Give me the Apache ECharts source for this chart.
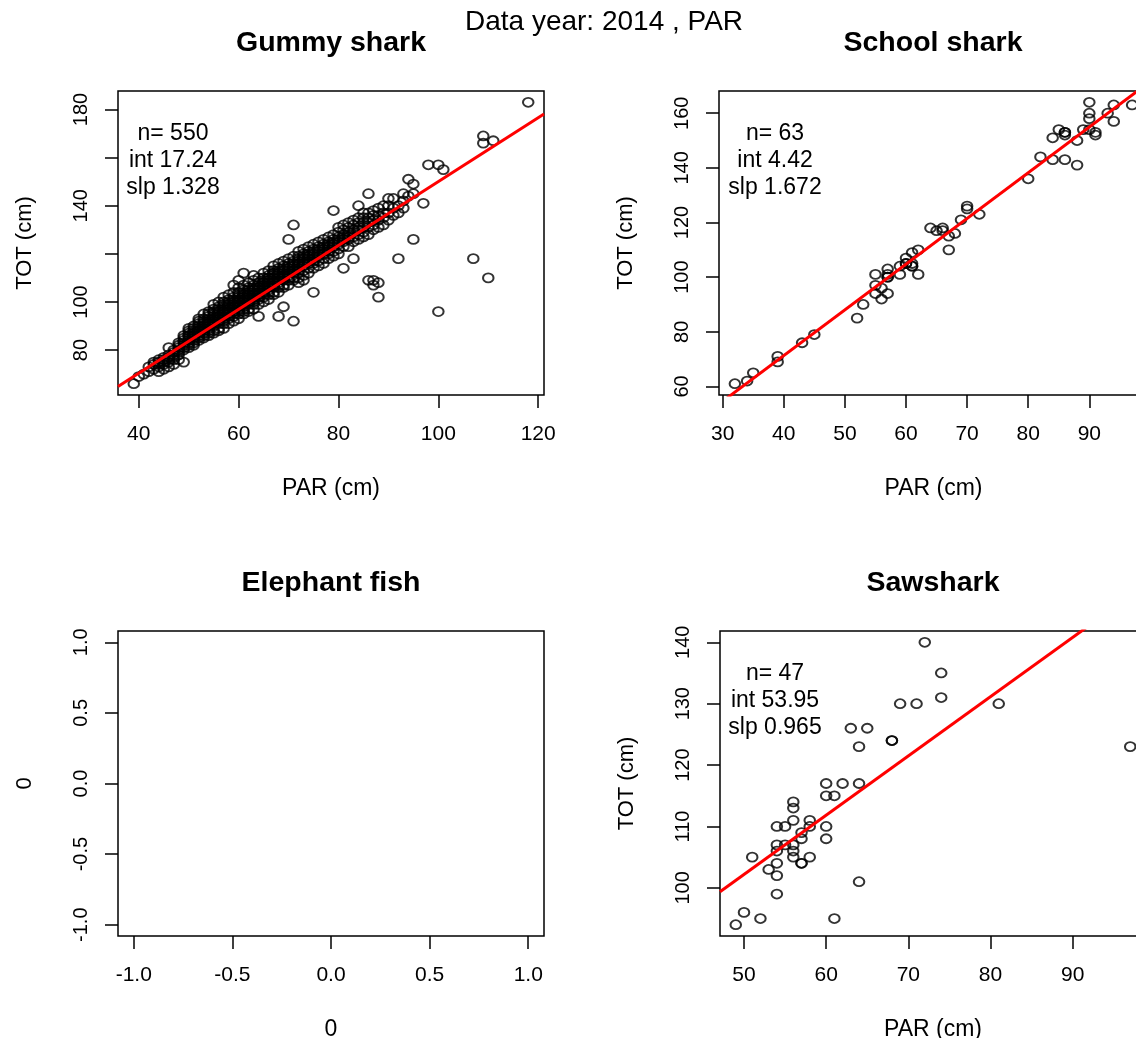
<!DOCTYPE html>
<html>
<head>
<meta charset="utf-8">
<script src="https://cdn.jsdelivr.net/npm/echarts@6/dist/echarts.min.js"></script>
<style>
  html, body { margin: 0; padding: 0; background: #fff; }
  #chart { width: 1136px; height: 1038px; }
</style>
</head>
<body>
<div id="chart"></div>
<script>
// ---- Length data, 2014: partial (PAR) vs total (TOT) length, cm ----

// Gummy shark: each row is [PAR, TOT, TOT, ...]
const gummyRows = [
  [39, 66], [40, 69], [41, 70], [42, 71, 73],
  [43, 72, 74, 75], [44, 71, 73, 74, 75, 76], [45, 72, 74, 75, 76, 77],
  [46, 73, 75, 76, 77, 78, 81], [47, 74, 76, 77, 78, 79, 80],
  [48, 76, 78, 79, 80, 81, 82, 83], [49, 75, 80, 81, 82, 83, 84, 85, 86],
  [50, 81, 82, 83, 84, 85, 86, 86, 87, 88, 89],
  [51, 82, 83, 84, 85, 86, 87, 87, 88, 89, 90],
  [52, 84, 85, 86, 87, 88, 88, 89, 90, 91, 92, 93],
  [53, 85, 86, 87, 88, 89, 89, 90, 91, 92, 93, 95],
  [54, 86, 87, 88, 89, 90, 91, 91, 92, 93, 94, 95, 96],
  [55, 87, 88, 90, 91, 92, 92, 93, 94, 95, 96, 97, 99],
  [56, 88, 89, 91, 92, 93, 94, 94, 95, 96, 97, 98, 100],
  [57, 89, 91, 92, 93, 94, 95, 96, 96, 97, 98, 99, 100, 102],
  [58, 91, 93, 94, 95, 96, 97, 97, 98, 99, 100, 101, 103],
  [59, 92, 94, 95, 96, 97, 98, 99, 99, 100, 101, 102, 104, 107],
  [60, 93, 95, 96, 97, 98, 99, 100, 100, 101, 102, 103, 104, 106, 109],
  [61, 95, 96, 97, 98, 99, 100, 101, 102, 102, 103, 104, 105, 107, 112],
  [62, 96, 97, 99, 100, 101, 102, 103, 103, 104, 105, 106, 108],
  [63, 97, 99, 100, 101, 102, 103, 104, 105, 105, 106, 107, 109, 111],
  [64, 94, 99, 101, 102, 103, 104, 105, 106, 106, 107, 108, 110],
  [65, 100, 102, 103, 104, 105, 106, 107, 108, 108, 109, 110, 112],
  [66, 101, 103, 104, 105, 106, 107, 108, 109, 110, 110, 111, 113],
  [67, 103, 104, 106, 107, 108, 109, 110, 111, 112, 112, 113, 115],
  [68, 94, 104, 106, 107, 108, 109, 110, 111, 112, 113, 114, 116],
  [69, 98, 106, 107, 109, 110, 111, 112, 113, 114, 115, 117],
  [70, 107, 109, 110, 111, 112, 113, 114, 115, 116, 118, 126],
  [71, 92, 109, 110, 112, 113, 114, 115, 116, 117, 119, 132],
  [72, 108, 110, 112, 113, 114, 115, 116, 117, 118, 119, 121],
  [73, 109, 111, 113, 115, 116, 117, 118, 119, 120, 122],
  [74, 112, 114, 116, 117, 118, 119, 120, 121, 123],
  [75, 104, 114, 116, 117, 118, 119, 120, 121, 122, 124],
  [76, 115, 117, 119, 120, 121, 122, 123, 125],
  [77, 116, 118, 120, 121, 122, 123, 124, 126],
  [78, 118, 120, 121, 122, 123, 124, 125, 127],
  [79, 119, 121, 123, 124, 125, 126, 128, 138],
  [80, 120, 122, 124, 125, 126, 127, 129, 131],
  [81, 114, 123, 125, 126, 127, 128, 130, 132],
  [82, 123, 126, 127, 128, 129, 131, 133],
  [83, 118, 125, 127, 129, 130, 132, 134],
  [84, 126, 128, 130, 131, 133, 135, 140],
  [85, 127, 129, 131, 133, 135, 137],
  [86, 109, 128, 131, 133, 135, 137, 145],
  [87, 107, 109, 130, 132, 134, 136, 138],
  [88, 102, 108, 131, 134, 136, 139],
  [89, 132, 135, 137, 140], [90, 134, 137, 140, 143], [91, 136, 139, 143],
  [92, 118, 137, 140], [93, 139, 142, 145], [94, 144, 151], [95, 126, 145, 149],
  [97, 141], [98, 157], [100, 96, 157], [101, 155], [107, 118],
  [109, 166, 169], [110, 110], [111, 167], [118, 183]
];

// School shark
const schoolPar = [32, 34, 35, 39, 39, 43, 45, 52, 53, 55, 55, 55, 56, 56, 57, 57, 57, 57, 57,
  59, 59, 60, 60, 60, 61, 61, 61, 61, 62, 62, 64, 65, 66, 66, 67, 67, 68, 69, 70, 70, 72,
  80, 82, 84, 84, 85, 86, 86, 86, 86, 88, 88, 89, 90, 90, 90, 90, 91, 91, 93, 94, 94, 97];
const schoolTot = [61, 62, 65, 71, 69, 76, 79, 85, 90, 101, 97, 94, 96, 92, 94, 103, 100, 100, 101,
  101, 104, 107, 105, 105, 109, 105, 104, 104, 110, 101, 118, 117, 118, 117, 115, 110, 116, 121, 125, 126, 123,
  136, 144, 151, 143, 154, 153, 152, 153, 143, 150, 141, 154, 164, 160, 158, 154, 153, 152, 160, 163, 157, 163];

// Sawshark
const sawPar = [72, 74, 74, 69, 71, 81, 63, 65, 68, 68, 64, 97, 60, 62, 64, 60, 61, 56, 56, 56,
  58, 54, 55, 60, 58, 57, 57, 60, 54, 55, 56, 54, 56, 51, 56, 58, 57, 57, 54, 53, 54, 64,
  54, 50, 52, 61, 49];
const sawTot = [140, 135, 131, 130, 130, 130, 126, 126, 124, 124, 123, 123, 117, 117, 117, 115, 115, 114, 113, 111,
  111, 110, 110, 110, 110, 109, 108, 108, 107, 107, 107, 106, 106, 105, 105, 105, 104, 104, 104, 103, 102, 101,
  99, 96, 95, 95, 94];

// Regression summaries printed in each panel
const fitN   = [550, 63, null, 47];
const fitInt = [17.24, 4.42, null, 53.95];
const fitSlp = [1.328, 1.672, null, 0.965];

// Axis ticks and labels
const gummyXTicks = [40, 60, 80, 100, 120];
const gummyYTicks = [80, 100, 120, 140, 160, 180];
const gummyYLabels = [80, 100, 140, 180];
const schoolXTicks = [30, 40, 50, 60, 70, 80, 90];
const schoolYTicks = [60, 80, 100, 120, 140, 160];
const emptyTicks = [-1, -0.5, 0, 0.5, 1];
const sawXTicks = [50, 60, 70, 80, 90];
const sawYTicks = [100, 110, 120, 130, 140];

const panelTitles = ['Gummy shark', 'School shark', 'Elephant fish', 'Sawshark'];
const mainTitle = 'Data year: 2014 , PAR';

// ---- helpers ----
const FONT = '"Liberation Sans", Arial, Helvetica, sans-serif';

const gummyPoints = [];
gummyRows.forEach(r => { for (let i = 1; i < r.length; i++) gummyPoints.push([r[0], r[i]]); });
const schoolPoints = schoolPar.map((p, i) => [p, schoolTot[i]]);
const sawPoints = sawPar.map((p, i) => [p, sawTot[i]]);

// R-style axis extent: data range widened by 4% each side
function padRange(vals) {
  const lo = Math.min(...vals), hi = Math.max(...vals);
  const d = (hi - lo) * 0.04;
  return [lo - d, hi + d];
}

const ranges = [
  [padRange(gummyPoints.map(p => p[0])), padRange(gummyPoints.map(p => p[1]))],
  [padRange(schoolPar), padRange(schoolTot)],
  [[-1.08, 1.08], [-1.08, 1.08]],
  [padRange(sawPar), padRange(sawTot)]
];

const grids = [
  { left: 118, top: 91, width: 426, height: 304 },
  { left: 719, top: 91, width: 429, height: 304 },
  { left: 118, top: 631, width: 426, height: 305 },
  { left: 720, top: 631, width: 426, height: 305 }
].map(g => Object.assign(g, {
  show: true, borderColor: '#000', borderWidth: 1.5,
  backgroundColor: 'transparent', containLabel: false, outerBoundsMode: 'none'
}));

const tickStyle = { color: '#000', width: 1.5 };

function xAxisFor(i, ticks, fmt, name) {
  return {
    type: 'value', gridIndex: i, position: 'bottom', min: ranges[i][0][0], max: ranges[i][0][1],
    name: name, nameLocation: 'middle', nameGap: 82,
    nameTextStyle: { fontFamily: FONT, fontSize: 23, color: '#000' },
    axisLine: { show: false, onZero: false }, splitLine: { show: false },
    axisTick: { show: true, inside: false, length: 13, lineStyle: tickStyle, customValues: ticks },
    axisLabel: { customValues: ticks, formatter: fmt, margin: 29, fontFamily: FONT, fontSize: 21, color: '#000' }
  };
}
function yAxisFor(i, ticks, labels, fmt, name) {
  return {
    type: 'value', gridIndex: i, position: 'left', min: ranges[i][1][0], max: ranges[i][1][1],
    name: name, nameLocation: 'middle', nameGap: 82,
    nameTextStyle: { fontFamily: FONT, fontSize: 22, color: '#000' },
    axisLine: { show: false, onZero: false }, splitLine: { show: false },
    axisTick: { show: true, inside: false, length: 13, lineStyle: tickStyle, customValues: ticks },
    axisLabel: { customValues: labels, formatter: fmt, rotate: 90, margin: 27, fontFamily: FONT, fontSize: 20, color: '#000' }
  };
}
const intFmt = v => String(Math.round(v));
const oneDec = v => v.toFixed(1);

const xAxes = [
  xAxisFor(0, gummyXTicks, intFmt, 'PAR (cm)'),
  xAxisFor(1, schoolXTicks, intFmt, 'PAR (cm)'),
  xAxisFor(2, emptyTicks, oneDec, '0'),
  xAxisFor(3, sawXTicks, intFmt, 'PAR (cm)')
];
const yAxes = [
  yAxisFor(0, gummyYTicks, gummyYLabels, intFmt, 'TOT (cm)'),
  yAxisFor(1, schoolYTicks, schoolYTicks, intFmt, 'TOT (cm)'),
  yAxisFor(2, emptyTicks, emptyTicks, oneDec, '0'),
  yAxisFor(3, sawYTicks, sawYTicks, intFmt, 'TOT (cm)')
];

function pointSeries(i, data) {
  return {
    type: 'scatter', xAxisIndex: i, yAxisIndex: i, data: data,
    symbol: 'circle', symbolSize: [10.5, 9], silent: true, z: 2,
    itemStyle: { color: 'rgba(0,0,0,0)', borderColor: '#000', borderWidth: 1.9 }
  };
}
// fitted line TOT = int + slp * PAR across the full plotting range
function fitSeries(i) {
  const [x0, x1] = ranges[i][0];
  return {
    type: 'line', xAxisIndex: i, yAxisIndex: i, clip: true, silent: true, z: 3,
    symbol: 'none', showSymbol: false,
    data: [[x0, fitInt[i] + fitSlp[i] * x0], [x1, fitInt[i] + fitSlp[i] * x1]],
    lineStyle: { color: '#ff0000', width: 3 }
  };
}

const series = [
  pointSeries(0, gummyPoints), fitSeries(0),
  pointSeries(1, schoolPoints), fitSeries(1),
  pointSeries(2, []),
  pointSeries(3, sawPoints), fitSeries(3)
];

// text: headings and regression summaries
function txt(x, y, s, size, weight) {
  return {
    type: 'text', x: x, y: y, silent: true, z: 10,
    style: {
      text: s, fill: '#000', fontFamily: FONT, fontSize: size, fontWeight: weight || 'normal',
      textAlign: 'center', textVerticalAlign: 'middle', align: 'center', verticalAlign: 'middle'
    }
  };
}
const titleCenters = [[331, 43], [933, 43], [331, 583], [933, 583]];
const statCenters = [[173, 134], [775, 134], null, [775, 674]];

const graphic = [txt(604, 22, mainTitle, 28)];
panelTitles.forEach((t, i) => graphic.push(txt(titleCenters[i][0], titleCenters[i][1], t, 28.5, 'bold')));
statCenters.forEach((c, i) => {
  if (!c) return;
  graphic.push(txt(c[0], c[1], 'n= ' + fitN[i], 23));
  graphic.push(txt(c[0], c[1] + 27, 'int ' + fitInt[i], 23));
  graphic.push(txt(c[0], c[1] + 54, 'slp ' + fitSlp[i], 23));
});

const chart = echarts.init(document.getElementById('chart'), null, { renderer: 'canvas' });
chart.setOption({
  animation: false,
  backgroundColor: '#fff',
  grid: grids,
  xAxis: xAxes,
  yAxis: yAxes,
  series: series,
  graphic: graphic
});
</script>
</body>
</html>
